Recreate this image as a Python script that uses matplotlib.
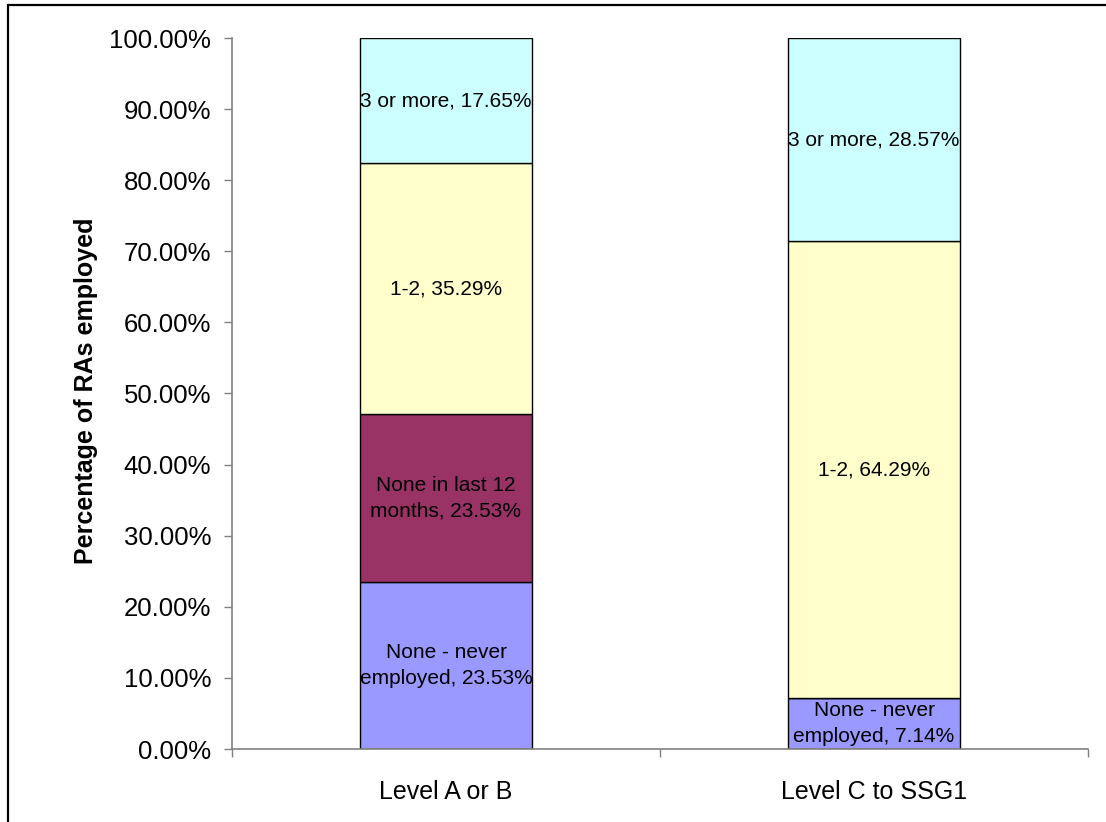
import matplotlib
matplotlib.use("Agg")
import matplotlib.pyplot as plt
from matplotlib.patches import Rectangle
import numpy as np

plt.rcParams['font.family'] = ['Liberation Sans', 'DejaVu Sans']

categories = ["Level A or B", "Level C to SSG1"]
series_names = ["None - never employed", "None in last 12 months", "1-2", "3 or more"]
series_values = [
    [23.53, 7.14],   # None - never employed
    [23.53, 0.0],    # None in last 12 months
    [35.29, 64.29],  # 1-2
    [17.65, 28.57],  # 3 or more
]
label_texts = [
    ["None - never\nemployed, 23.53%", "None - never\nemployed, 7.14%"],
    ["None in last 12\nmonths, 23.53%", ""],
    ["1-2, 35.29%", "1-2, 64.29%"],
    ["3 or more, 17.65%", "3 or more, 28.57%"],
]
colors = ["#9999FF", "#993366", "#FFFFCC", "#CCFFFF"]
yticks = [0, 10, 20, 30, 40, 50, 60, 70, 80, 90, 100]

W, H = 1106, 822
fig = plt.figure(figsize=(W / 100, H / 100), dpi=100)
ax = fig.add_axes([232 / W, 1 - 749 / H, (1088 - 232) / W, (749 - 38) / H])

x = np.arange(len(categories))
bottom = np.zeros(len(categories))
for vals, col, labs in zip(series_values, colors, label_texts):
    vals = np.array(vals)
    ax.bar(x, vals, width=0.4, bottom=bottom, color=col,
           edgecolor="black", linewidth=1.0, zorder=2)
    for xi, b, v, t in zip(x, bottom, vals, labs):
        if v > 0 and t:
            ax.text(xi, b + v / 2, t, ha="center", va="center",
                    fontsize=15, color="black", linespacing=1.45, zorder=3)
    bottom = bottom + vals

ax.set_xlim(-0.5, 1.5)
ax.set_ylim(0, 100)
ax.set_yticks(yticks)
ax.set_yticklabels([f"{v:.2f}%" for v in yticks], fontsize=18.5)
ax.set_xticks(x)
ax.set_xticklabels(categories, fontsize=18)
ax.set_xticks([-0.5, 0.5, 1.5], minor=True)
ax.tick_params(axis="x", which="major", length=0, pad=22)
ax.tick_params(axis="x", which="minor", length=6, direction="out", color="#808080", width=1)
ax.tick_params(axis="y", length=6, direction="out", color="#808080", width=1, pad=9)

for s in ["top", "right"]:
    ax.spines[s].set_visible(False)
for s in ["left", "bottom"]:
    ax.spines[s].set_color("#808080")
    ax.spines[s].set_linewidth(1.2)

fig.text(86 / W, 1 - 391 / H, "Percentage of RAs employed", rotation=90,
         ha="center", va="center", fontsize=18, fontweight="bold")

fig.patches.append(Rectangle((8 / W, -0.1), 2.0, (1 - 5 / H) + 0.1,
                             transform=fig.transFigure, fill=False,
                             edgecolor="black", linewidth=1.6, clip_on=False))

fig.savefig("out.png", dpi=100)
